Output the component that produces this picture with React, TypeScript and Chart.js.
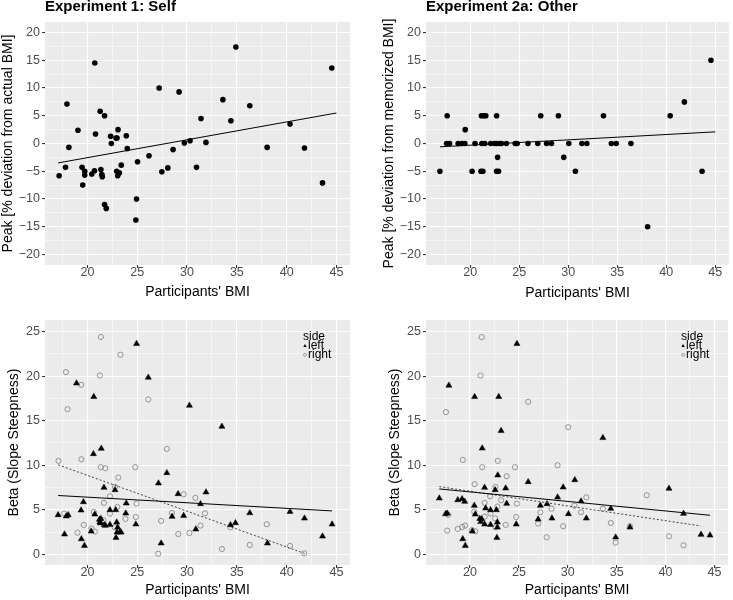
import React, { useEffect, useRef } from "react";
import { Chart, registerables } from "chart.js";
Chart.register(...registerables);

const FONT = '"Liberation Sans", Arial, Helvetica, sans-serif';

// ---- tick values ----
const bmiMajorTicks = [20, 25, 30, 35, 40, 45];
const bmiMinorTicks = [17.5, 22.5, 27.5, 32.5, 37.5, 42.5];
const peakMajorTicks = [-20, -15, -10, -5, 0, 5, 10, 15, 20];
const peakMinorTicks = [-17.5, -12.5, -7.5, -2.5, 2.5, 7.5, 12.5, 17.5];
const betaMajorTicks = [0, 5, 10, 15, 20, 25];
const betaMinorTicks = [2.5, 7.5, 12.5, 17.5, 22.5];

// ---- Experiment 1: Self (peak) ----
const selfBMI = [17.16, 17.8, 17.94, 18.14, 19.05, 19.46, 19.53, 19.73, 19.73, 20.74, 20.81, 20.71, 20.44, 21.28, 21.35, 21.45, 21.49, 21.72, 21.72, 21.89, 22.33, 22.4, 22.87, 22.97, 23.07, 22.94, 23.04, 23.2, 23.4, 23.9, 24.0, 24.93, 24.86, 25.03, 26.18, 27.2, 27.47, 28.07, 28.6, 29.2, 29.73, 30.3, 30.95, 31.4, 31.9, 33.6, 34.4, 34.9, 36.3, 38.04, 40.34, 41.79, 43.6, 44.53];
const selfPeak = [-5.8, -4.3, 7.1, -0.7, 2.4, -4.3, -7.5, -5.0, -5.7, 14.5, 1.7, -4.9, -5.5, 5.8, -4.7, -5.6, -6.0, 5.0, -11.0, -11.7, 1.3, 0.0, 1.0, 1.0, 2.5, -5.0, -5.8, -5.3, -3.9, 1.4, -0.9, -10.0, -13.8, -3.3, -2.2, 10.0, -5.1, -4.4, -1.1, 9.3, 0.1, 0.5, -4.3, 4.5, 0.2, 7.9, 4.1, 17.4, 6.8, -0.7, 3.5, -0.8, -7.1, 13.6];
const selfFitBMI = [17.06, 45.0];
const selfFitPeak = [-3.5, 5.5];

// ---- Experiment 2a: Other (peak) ----
const otherBMI = [16.92, 17.66, 17.6, 17.9, 18.78, 19.16, 19.46, 19.5, 20.2, 20.5, 21.1, 21.3, 21.15, 21.4, 21.6, 21.2, 21.5, 22.1, 22.5, 22.7, 23.0, 23.2, 22.7, 22.8, 22.7, 22.9, 23.7, 24.6, 24.8, 25.9, 26.9, 27.2, 27.8, 28.3, 29.0, 29.55, 30.06, 30.74, 31.4, 31.9, 33.6, 34.4, 34.9, 36.4, 38.1, 40.4, 41.85, 43.65, 44.56];
const otherPeak = [-5, 5, 0, 0, 0, 0, 0, 2.5, -5, 0, -5, -5, 5, 5, 5, 0, 0, 0, 0, 0, 0, 0, 5, -2.5, -5, -5, 0, 0, 0, 0, 0, 5, 0, 0, 5, -2.5, 0, -5, 0, 0, 5, 0, 0, 0, -15, 5, 7.5, -5, 15];
const otherFitBMI = [16.92, 45.0];
const otherFitPeak = [-0.6, 2.1];

// ---- Experiment 1: Self (beta) ----
const selfLeftBMI = [17.06, 17.7, 17.87, 18.07, 18.9, 19.36, 19.39, 19.6, 19.7, 20.37, 20.6, 20.64, 20.74, 21.2, 21.25, 21.35, 21.3, 21.39, 21.66, 21.69, 21.82, 22.26, 22.26, 22.77, 22.84, 22.94, 22.87, 23.04, 22.97, 23.24, 23.38, 23.9, 23.85, 24.86, 24.93, 26.11, 27.13, 27.4, 27.97, 28.5, 29.1, 29.66, 30.24, 30.88, 31.35, 31.9, 33.5, 34.36, 34.86, 36.3, 38.07, 40.34, 41.79, 43.6, 44.56];
const selfLeftBeta = [4.42, 2.25, 4.27, 4.42, 19.2, 4.94, 1.72, 5.88, 0.97, 2.58, 11.27, 17.68, 4.49, 3.9, 3.6, 4.0, 3.5, 11.87, 7.49, 3.3, 3.22, 4.98, 3.33, 7.23, 4.98, 3.6, 1.87, 3.03, 2.47, 2.47, 2.47, 5.73, 4.6, 3.37, 23.63, 19.85, 7.98, 1.24, 9.14, 4.23, 6.78, 4.34, 16.7, 2.81, 5.66, 6.97, 14.34, 3.3, 3.52, 4.64, 1.24, 4.79, 4.04, 2.02, 3.37];
const selfRightBMI = [17.1, 17.67, 17.84, 18.0, 19.0, 19.36, 19.39, 19.63, 20.4, 20.64, 20.74, 21.25, 21.35, 21.35, 21.79, 21.66, 21.62, 22.26, 22.26, 22.77, 23.0, 23.1, 23.31, 22.74, 23.82, 24.8, 24.93, 24.86, 26.11, 27.4, 27.1, 27.97, 28.48, 29.12, 29.66, 30.24, 30.84, 31.35, 31.8, 33.5, 34.36, 36.3, 38.0, 40.34, 41.76];
const selfRightBeta = [10.49, 4.57, 20.45, 16.29, 2.43, 19.03, 10.67, 3.3, 2.9, 4.76, 2.55, 20.07, 24.4, 9.78, 9.66, 5.77, 3.82, 6.52, 4.57, 7.57, 5.32, 8.61, 22.4, 3.03, 3.97, 9.78, 5.69, 4.19, 17.38, 3.75, 0.07, 11.83, 4.64, 2.28, 6.74, 2.4, 6.33, 3.22, 4.6, 0.6, 3.03, 1.05, 3.37, 0.94, 0.11];
const selfLeftFitBMI = [17.06, 44.56];
const selfLeftFitBeta = [6.6, 4.87];
const selfRightFitBMI = [17.06, 41.8];
const selfRightFitBeta = [10.04, 0.1];

// ---- Experiment 2a: Other (beta) ----
const otherLeftBMI = [16.86, 17.5, 17.67, 17.84, 18.75, 19.19, 19.46, 19.26, 19.52, 20.24, 20.47, 20.44, 20.54, 21.0, 21.1, 21.2, 21.25, 21.49, 21.5, 21.6, 22.1, 22.1, 22.57, 22.7, 22.8, 22.75, 22.84, 22.94, 22.8, 23.18, 23.65, 23.75, 24.73, 24.8, 25.95, 26.97, 27.2, 27.88, 28.38, 28.96, 29.53, 30.07, 30.72, 31.36, 31.9, 33.59, 34.4, 34.9, 36.36, 40.35, 41.84, 43.63, 44.55];
const otherLeftBeta = [6.29, 4.53, 4.6, 18.95, 6.1, 6.22, 5.92, 1.72, 0.97, 2.58, 17.68, 5.47, 4.49, 4.0, 3.65, 3.95, 11.9, 7.49, 3.37, 5.17, 4.98, 3.33, 7.23, 4.98, 3.6, 1.87, 8.88, 17.68, 3.03, 13.86, 7.42, 5.69, 3.37, 23.63, 8.13, 3.93, 5.47, 5.66, 4.04, 6.4, 7.53, 4.53, 8.35, 5.96, 4.04, 13.07, 5.13, 1.91, 3.03, 7.38, 4.57, 2.21, 2.13];
const otherRightBMI = [17.54, 17.67, 17.77, 18.75, 19.2, 19.5, 19.26, 20.2, 20.54, 20.47, 20.44, 21.08, 21.2, 21.25, 21.5, 21.5, 22.06, 22.1, 22.6, 22.8, 22.84, 22.57, 22.6, 23.18, 23.75, 23.65, 24.6, 24.8, 24.73, 25.95, 26.97, 27.2, 27.84, 28.35, 28.96, 29.53, 30.04, 30.68, 31.36, 31.9, 33.59, 34.4, 34.9, 36.36, 38.08, 40.35, 41.84];
const otherRightBeta = [15.96, 2.66, 4.42, 2.85, 3.07, 3.22, 10.6, 2.7, 2.58, 7.87, 4.79, 20.07, 24.38, 9.78, 5.77, 4.23, 6.52, 4.57, 7.57, 5.36, 10.49, 4.04, 3.03, 6.07, 8.76, 3.3, 9.78, 5.69, 4.19, 17.12, 3.45, 4.72, 1.91, 5.13, 10.0, 3.15, 14.27, 5.47, 4.72, 6.4, 5.13, 3.52, 1.31, 3.15, 6.63, 2.02, 1.01];
const otherLeftFitBMI = [16.86, 44.55];
const otherLeftFitBeta = [7.34, 4.38];
const otherRightFitBMI = [16.86, 43.6];
const otherRightFitBeta = [7.6, 3.18];

const pts = (xs: number[], ys: number[]) => xs.map((x, i) => ({ x, y: ys[i] }));
const fmt = (v: number) => (v < 0 ? "\u2212" + Math.abs(v) : String(v));

function lineDs(xs: number[], ys: number[], dashed: boolean) {
  return {
    data: pts(xs, ys),
    showLine: true,
    borderColor: dashed ? "#444444" : "#000000",
    borderWidth: 1,
    borderDash: dashed ? [2, 2] : [],
    pointRadius: 0,
    fill: false,
    order: 0,
  };
}
function dotDs(xs: number[], ys: number[]) {
  return { data: pts(xs, ys), pointRadius: 2.8, pointStyle: "circle", backgroundColor: "#000", borderColor: "#000", borderWidth: 0, order: 1 };
}
function triDs(xs: number[], ys: number[]) {
  return { data: pts(xs, ys), pointRadius: 3.5, pointStyle: "triangle", backgroundColor: "#000", borderColor: "#000", borderWidth: 0.5, order: 2 };
}
function ringDs(xs: number[], ys: number[]) {
  return { data: pts(xs, ys), pointRadius: 2.6, pointStyle: "circle", backgroundColor: "rgba(0,0,0,0)", borderColor: "#8a8a8a", borderWidth: 0.9, order: 3 };
}

type PanelProps = {
  x: number; y: number; w: number; h: number;
  area: { l: number; r: number; t: number; b: number };
  title?: string; yTitle: string; yTitlePad: number; xTitlePad: number;
  xMin: number; xMax: number; yMin: number; yMax: number;
  yMajor: number[]; yMinor: number[];
  datasets: any[]; legend?: boolean;
};

function Panel(p: PanelProps) {
  const ref = useRef<HTMLCanvasElement>(null);
  useEffect(() => {
    const xMajorSet = bmiMajorTicks;
    const decor = {
      id: "decor",
      beforeDraw(chart: any) {
        const { ctx, chartArea: a } = chart;
        ctx.save();
        ctx.fillStyle = "#EBEBEB";
        ctx.fillRect(a.left, a.top, a.right - a.left, a.bottom - a.top);
        ctx.restore();
      },
      afterDraw(chart: any) {
        const { ctx, chartArea: a } = chart;
        ctx.save();
        ctx.fillStyle = "#000";
        ctx.textAlign = "left";
        ctx.textBaseline = "alphabetic";
        if (p.title) {
          ctx.font = `bold 15px ${FONT}`;
          ctx.fillText(p.title, a.left, 11);
        }
        if (p.legend) {
          ctx.font = `12px ${FONT}`;
          const lx = a.right - 47;
          ctx.fillText("side", lx, a.top + 20);
          ctx.fillText("left", a.right - 42, a.top + 29);
          ctx.fillText("right", a.right - 42, a.top + 37.5);
          const mx = a.right - 45;
          const ty = a.top + 25.8;
          ctx.beginPath();
          ctx.moveTo(mx, ty - 1.9);
          ctx.lineTo(mx + 1.7, ty + 1.2);
          ctx.lineTo(mx - 1.7, ty + 1.2);
          ctx.closePath();
          ctx.fill();
          ctx.beginPath();
          ctx.arc(mx, a.top + 34.8, 1.5, 0, Math.PI * 2);
          ctx.strokeStyle = "#8a8a8a";
          ctx.lineWidth = 0.8;
          ctx.stroke();
        }
        ctx.restore();
      },
    };
    const allX = [...bmiMinorTicks, ...bmiMajorTicks].sort((a, b) => a - b);
    const allY = [...p.yMinor, ...p.yMajor].sort((a, b) => a - b);
    const chart = new Chart(ref.current as HTMLCanvasElement, {
      type: "scatter",
      data: { datasets: p.datasets },
      options: {
        animation: false,
        responsive: false,
        devicePixelRatio: 1,
        layout: { padding: { left: 0, right: p.w - p.area.r, top: p.area.t, bottom: 0 } },
        plugins: { legend: { display: false }, tooltip: { enabled: false }, title: { display: false } },
        scales: {
          x: {
            type: "linear",
            position: "bottom",
            min: p.xMin,
            max: p.xMax,
            afterBuildTicks: (s: any) => { s.ticks = allX.map((v) => ({ value: v })); },
            afterFit: (s: any) => { s.height = p.h - p.area.b; },
            ticks: {
              autoSkip: false,
              maxRotation: 0,
              padding: -2,
              color: "#4D4D4D",
              font: { family: FONT, size: 12.5, lineHeight: 1 },
              callback: (v: any) => (xMajorSet.includes(v) ? fmt(v) : ""),
            },
            grid: {
              color: "#FFFFFF",
              lineWidth: (c: any) => (xMajorSet.includes(c.tick?.value) ? 1.1 : 0.5),
              tickColor: (c: any) => (xMajorSet.includes(c.tick?.value) ? "#333333" : "rgba(0,0,0,0)"),
              tickLength: 3,
              drawTicks: true,
            },
            border: { display: false },
            title: {
              display: true,
              text: "Participants' BMI",
              color: "#000",
              font: { family: FONT, size: 14, lineHeight: 1 },
              padding: { top: 0, bottom: p.xTitlePad },
            },
          },
          y: {
            type: "linear",
            position: "left",
            min: p.yMin,
            max: p.yMax,
            afterBuildTicks: (s: any) => { s.ticks = allY.map((v) => ({ value: v })); },
            afterFit: (s: any) => { s.width = p.area.l; },
            ticks: {
              autoSkip: false,
              padding: 2,
              color: "#4D4D4D",
              font: { family: FONT, size: 12.5, lineHeight: 1 },
              callback: (v: any) => (p.yMajor.includes(v) ? fmt(v) : ""),
            },
            grid: {
              color: "#FFFFFF",
              lineWidth: (c: any) => (p.yMajor.includes(c.tick?.value) ? 1.1 : 0.5),
              tickColor: (c: any) => (p.yMajor.includes(c.tick?.value) ? "#333333" : "rgba(0,0,0,0)"),
              tickLength: 3,
              drawTicks: true,
            },
            border: { display: false },
            title: {
              display: true,
              text: p.yTitle,
              color: "#000",
              font: { family: FONT, size: 14, lineHeight: 1 },
              padding: { top: p.yTitlePad, bottom: 0 },
            },
          },
        },
      } as any,
      plugins: [decor],
    });
    return () => chart.destroy();
  }, []);
  return (
    <canvas
      ref={ref}
      width={p.w}
      height={p.h}
      style={{ position: "absolute", left: p.x, top: p.y, width: p.w, height: p.h }}
    />
  );
}

export default function App() {
  return (
    <div style={{ position: "absolute", left: 0, top: 0, width: 733, height: 600, background: "#fff", overflow: "hidden" }}>
      <Panel
        x={0} y={0} w={366} h={300}
        area={{ l: 45, r: 350, t: 22, b: 265 }}
        title="Experiment 1: Self"
        yTitle="Peak [% deviation from actual BMI]" yTitlePad={1.5} xTitlePad={1}
        xMin={15.74} xMax={46.36} yMin={-21.9} yMax={21.9}
        yMajor={peakMajorTicks} yMinor={peakMinorTicks}
        datasets={[lineDs(selfFitBMI, selfFitPeak, false), dotDs(selfBMI, selfPeak)]}
      />
      <Panel
        x={366} y={0} w={367} h={300}
        area={{ l: 60, r: 365, t: 22, b: 265 }}
        title="Experiment 2a: Other"
        yTitle="Peak [% deviation from memorized BMI]" yTitlePad={16} xTitlePad={0}
        xMin={15.5} xMax={46.4} yMin={-21.9} yMax={21.9}
        yMajor={peakMajorTicks} yMinor={peakMinorTicks}
        datasets={[lineDs(otherFitBMI, otherFitPeak, false), dotDs(otherBMI, otherPeak)]}
      />
      <Panel
        x={0} y={300} w={366} h={300}
        area={{ l: 45, r: 350, t: 20, b: 265 }}
        yTitle="Beta (Slope Steepness)" yTitlePad={7} xTitlePad={3}
        xMin={15.74} xMax={46.36} yMin={-1.2} yMax={26.3}
        yMajor={betaMajorTicks} yMinor={betaMinorTicks}
        legend
        datasets={[
          lineDs(selfLeftFitBMI, selfLeftFitBeta, false),
          lineDs(selfRightFitBMI, selfRightFitBeta, true),
          triDs(selfLeftBMI, selfLeftBeta),
          ringDs(selfRightBMI, selfRightBeta),
        ]}
      />
      <Panel
        x={366} y={300} w={367} h={300}
        area={{ l: 60, r: 365, t: 20, b: 265 }}
        yTitle="Beta (Slope Steepness)" yTitlePad={22} xTitlePad={3}
        xMin={15.5} xMax={46.4} yMin={-1.2} yMax={26.3}
        yMajor={betaMajorTicks} yMinor={betaMinorTicks}
        legend
        datasets={[
          lineDs(otherLeftFitBMI, otherLeftFitBeta, false),
          lineDs(otherRightFitBMI, otherRightFitBeta, true),
          triDs(otherLeftBMI, otherLeftBeta),
          ringDs(otherRightBMI, otherRightBeta),
        ]}
      />
    </div>
  );
}
